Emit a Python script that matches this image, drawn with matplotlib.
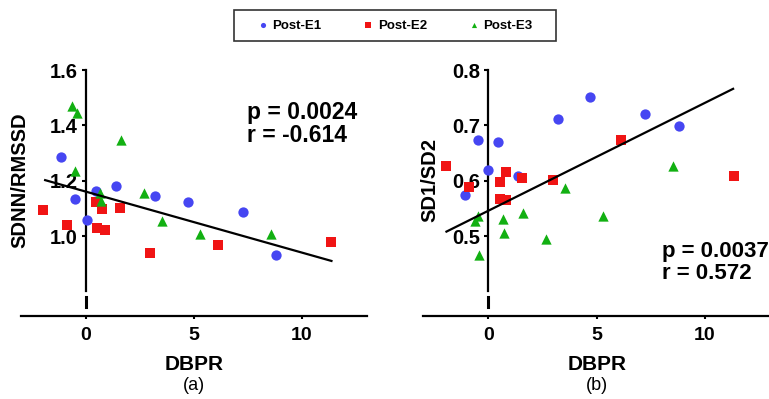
import matplotlib
matplotlib.use('Agg')
import matplotlib.pyplot as plt
from matplotlib.patches import Rectangle

plt.rcParams['font.family'] = ['Liberation Sans', 'DejaVu Sans']

# ---- data ----
series = ['Post-E1', 'Post-E2', 'Post-E3']
colors = ['#4646F2', '#F01414', '#12B012']
markers = ['o', 's', '^']

# panel (a): SDNN/RMSSD vs DBPR
a_e1_x = [-1.14, -0.47, 0.06, 0.50, 1.40, 3.19, 4.75, 7.27, 8.80]
a_e1_y = [1.287, 1.134, 1.058, 1.164, 1.181, 1.146, 1.124, 1.088, 0.933]
a_e2_x = [-1.99, -0.86, 0.50, 0.53, 0.78, 0.90, 1.59, 2.99, 6.14, 11.37]
a_e2_y = [1.094, 1.040, 1.124, 1.028, 1.099, 1.022, 1.100, 0.937, 0.967, 0.977]
a_e3_x = [-0.62, -0.40, -0.47, 1.62, 0.65, 0.73, 2.68, 3.55, 5.30, 8.57]
a_e3_y = [1.470, 1.443, 1.236, 1.347, 1.157, 1.127, 1.154, 1.055, 1.006, 1.007]
a_fit_x = [-1.87, 11.37]
a_fit_y = [1.202, 0.910]

# panel (b): SD1/SD2 vs DBPR
b_e1_x = [-1.08, -0.48, 0.0, 0.43, 1.39, 3.20, 4.70, 7.25, 8.81]
b_e1_y = [0.575, 0.673, 0.620, 0.669, 0.608, 0.711, 0.751, 0.720, 0.699]
b_e2_x = [-1.93, -0.90, 0.53, 0.53, 0.83, 0.80, 1.58, 3.00, 6.11, 11.35]
b_e2_y = [0.627, 0.589, 0.597, 0.567, 0.616, 0.565, 0.605, 0.601, 0.673, 0.608]
b_e3_x = [-0.62, -0.46, -0.43, 0.68, 0.73, 1.61, 2.66, 3.55, 5.29, 8.53]
b_e3_y = [0.528, 0.537, 0.466, 0.530, 0.505, 0.542, 0.494, 0.586, 0.536, 0.627]
b_fit_x = [-1.93, 11.31]
b_fit_y = [0.508, 0.766]

a_yticks = [1.0, 1.2, 1.4, 1.6]
b_yticks = [0.5, 0.6, 0.7, 0.8]
xticks = [0, 5, 10]


def draw_panel(ax, xs, ys, fit_x, fit_y, ylim, spine_lo, dash, yticks, fmt):
    for x, y, c, m, lab in zip(xs, ys, colors, markers, series):
        ax.scatter(x, y, s=55, c=c, marker=m, linewidths=0, label=lab, zorder=3)
    ax.plot(fit_x, fit_y, color='k', lw=1.6, zorder=4)

    ax.set_xlim(-3, 13)
    ax.set_ylim(*ylim)
    for s in ['top', 'right']:
        ax.spines[s].set_visible(False)
    ax.spines['left'].set_position(('data', 0))
    ax.spines['left'].set_bounds(spine_lo, yticks[-1])
    for s in ['left', 'bottom']:
        ax.spines[s].set_linewidth(1.6)
    # short broken-axis piece below the y axis
    ax.plot([0, 0], dash, color='k', lw=2.2, clip_on=False, zorder=2)

    ax.set_xticks(xticks)
    ax.set_yticks(yticks)
    ax.set_yticklabels([fmt % v for v in yticks])
    ax.tick_params(axis='y', length=3, width=1.5, pad=2.5, labelsize=14.5)
    ax.tick_params(axis='x', length=2, width=1.5, pad=6, labelsize=14)
    for lab in ax.get_xticklabels() + ax.get_yticklabels():
        lab.set_fontweight('bold')


fig = plt.figure(figsize=(7.69, 3.99), dpi=100)
W, H = 769.0, 399.0
ax1 = fig.add_axes([20.7 / W, 1 - 316 / H, 346 / W, 246 / H])
ax2 = fig.add_axes([423.3 / W, 1 - 316 / H, 346.4 / W, 246 / H])

draw_panel(ax1, [a_e1_x, a_e2_x, a_e3_x], [a_e1_y, a_e2_y, a_e3_y],
           a_fit_x, a_fit_y, (0.711, 1.6), 0.8, [0.745, 0.78], a_yticks, '%.1f')
draw_panel(ax2, [b_e1_x, b_e2_x, b_e3_x], [b_e1_y, b_e2_y, b_e3_y],
           b_fit_x, b_fit_y, (0.3555, 0.8), 0.4, [0.3725, 0.39], b_yticks, '%.1f')

# statistics text
ax1.text(0.654, 0.829, 'p = 0.0024', transform=ax1.transAxes, fontsize=16.5,
         fontweight='bold', va='center', ha='left')
ax1.text(0.654, 0.732, 'r = -0.614', transform=ax1.transAxes, fontsize=16.5,
         fontweight='bold', va='center', ha='left')
ax2.text(0.688, 0.261, 'p = 0.0037', transform=ax2.transAxes, fontsize=16,
         fontweight='bold', va='center', ha='left')
ax2.text(0.688, 0.174, 'r = 0.572', transform=ax2.transAxes, fontsize=16,
         fontweight='bold', va='center', ha='left')

# axis labels and panel letters
fig.text(20 / W, 1 - 180 / H, 'SDNN/RMSSD', rotation=90, ha='center', va='center',
         fontsize=14.5, fontweight='bold')
fig.text(430 / W, 1 - 180 / H, 'SD1/SD2', rotation=90, ha='center', va='center',
         fontsize=14.5, fontweight='bold')
fig.text(193.7 / W, 1 - 364.7 / H, 'DBPR', ha='center', va='center',
         fontsize=15, fontweight='bold')
fig.text(597.2 / W, 1 - 364.7 / H, 'DBPR', ha='center', va='center',
         fontsize=15, fontweight='bold')
fig.text(193.7 / W, 1 - 386 / H, '(a)', ha='center', va='center', fontsize=13)
fig.text(597.2 / W, 1 - 386 / H, '(b)', ha='center', va='center', fontsize=13)

# legend on top, inside a plain box
handles, labels = ax1.get_legend_handles_labels()
leg = fig.legend(handles, labels, loc='center', bbox_to_anchor=(395 / W, 1 - 25.5 / H),
                 ncol=3, frameon=False, markerscale=0.5,
                 prop={'weight': 'bold', 'size': 9.5}, columnspacing=3.2,
                 handletextpad=0.3, borderpad=0.0, handlelength=0.8)
fig.patches.append(Rectangle((234 / W, 1 - 41 / H), 322 / W, 31 / H,
                             transform=fig.transFigure, fill=False,
                             edgecolor='#333333', linewidth=1.2))

plt.savefig('out.png', dpi=100)
